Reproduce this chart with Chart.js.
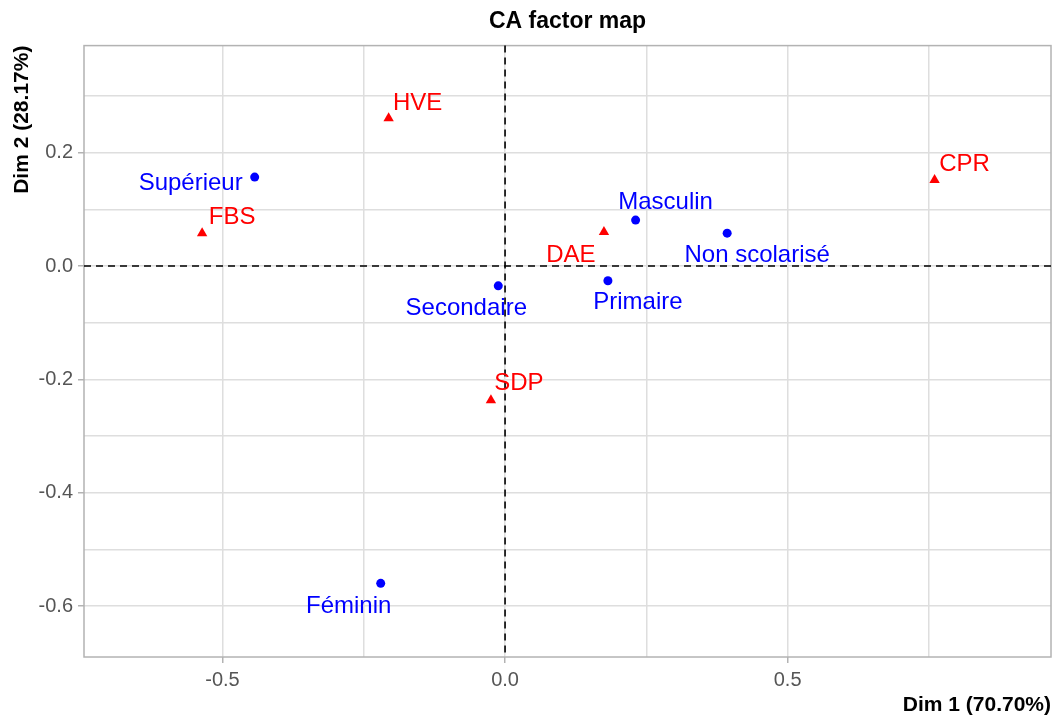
<!DOCTYPE html>
<html lang="fr">
  <head>
    <meta charset="UTF-8">
    <title>CA factor map</title>
    <script src="https://cdn.jsdelivr.net/npm/chart.js@4.4.1/dist/chart.umd.min.js"></script>
    <style>
      html, body { margin: 0; padding: 0; background: #fff; overflow: hidden; }
      canvas { display: block; }
    </style>
  </head>
  <body>
    <canvas id="chart" width="1057" height="718"></canvas>
    <script type="text/javascript">
      // column categories (blue circles)
      const colNames = ['Supérieur', 'Masculin', 'Non scolarisé', 'Primaire', 'Secondaire', 'Féminin']
      const colDim1 = [-0.443, 0.231, 0.393, 0.182, -0.012, -0.220]
      const colDim2 = [0.157, 0.081, 0.058, -0.026, -0.035, -0.560]

      // row categories (red triangles)
      const rowNames = ['HVE', 'CPR', 'FBS', 'DAE', 'SDP']
      const rowDim1 = [-0.206, 0.760, -0.536, 0.175, -0.025]
      const rowDim2 = [0.261, 0.152, 0.058, 0.060, -0.237]

      // axis breaks: all get a grid line, only the major ones get a label
      const xBreaks = [-0.5, -0.25, 0, 0.25, 0.5, 0.75]
      const xMajor = [-0.5, 0, 0.5]
      const yBreaks = [-0.6, -0.5, -0.4, -0.3, -0.2, -0.1, 0, 0.1, 0.2, 0.3]
      const yMajor = [-0.6, -0.4, -0.2, 0, 0.2]

      // label nudges in pixels (label centre relative to its point)
      const colNudge = [[-64, 6], [30, -18], [30, 22], [30, 22], [-32, 23], [-32, 23]]
      const rowNudge = [[29, -15], [30, -16], [30, -16], [-33, 23], [28, -17]]

      const isMajor = (list, v) => list.some(m => Math.abs(m - v) < 1e-9)
      const fmt = v => (Math.abs(v) < 1e-9 ? 0 : v).toFixed(1)

      const refLines = {
        id: 'refLines',
        beforeDatasetsDraw(chart) {
          const {ctx, chartArea: a, scales: {x, y}} = chart
          ctx.save()
          ctx.strokeStyle = '#b3b3b3'
          ctx.lineWidth = 1.5
          ctx.strokeRect(a.left, a.top, a.right - a.left, a.bottom - a.top)
          ctx.strokeStyle = '#000'
          ctx.lineWidth = 1.6
          ctx.setLineDash([7, 5])
          const x0 = x.getPixelForValue(0)
          const y0 = y.getPixelForValue(0)
          ctx.beginPath()
          ctx.moveTo(a.left, y0); ctx.lineTo(a.right, y0)
          ctx.moveTo(x0, a.top); ctx.lineTo(x0, a.bottom)
          ctx.stroke()
          ctx.restore()
        }
      }

      const pointLabels = {
        id: 'pointLabels',
        afterDatasetsDraw(chart) {
          const {ctx} = chart
          ctx.save()
          ctx.font = '24px "Liberation Sans", Arial, sans-serif'
          ctx.textAlign = 'center'
          ctx.textBaseline = 'middle'
          chart.data.datasets.forEach((ds, di) => {
            const meta = chart.getDatasetMeta(di)
            ctx.fillStyle = ds.labelColor
            meta.data.forEach((pt, i) => {
              const [dx, dy] = ds.nudge[i]
              ctx.fillText(ds.names[i], pt.x + dx, pt.y + dy)
            })
          })
          ctx.restore()
        }
      }

      const ctx = document.getElementById('chart').getContext('2d')
      const chart = new Chart(ctx, {
        type: 'scatter',
        data: {
          datasets: [
            {
              label: 'Colonnes',
              names: colNames,
              nudge: colNudge,
              labelColor: '#0000ff',
              data: colDim1.map((v, i) => ({x: v, y: colDim2[i]})),
              pointStyle: 'circle',
              pointRadius: 4.5,
              backgroundColor: '#0000ff',
              borderWidth: 0
            },
            {
              label: 'Lignes',
              names: rowNames,
              nudge: rowNudge,
              labelColor: '#ff0000',
              data: rowDim1.map((v, i) => ({x: v, y: rowDim2[i]})),
              pointStyle: 'triangle',
              pointRadius: 6,
              backgroundColor: '#ff0000',
              borderWidth: 0
            }
          ]
        },
        options: {
          responsive: false,
          animation: false,
          events: [],
          layout: { padding: { left: 0, right: 2, top: 0, bottom: 0 } },
          plugins: {
            legend: { display: false },
            tooltip: { enabled: false },
            title: {
              display: true,
              text: 'CA factor map',
              fullSize: false,
              color: '#000',
              font: { family: '"Liberation Sans", Arial, sans-serif', size: 23, weight: 'bold' },
              padding: { top: 8, bottom: 10 }
            }
          },
          scales: {
            x: {
              type: 'linear',
              min: -0.745,
              max: 0.966,
              afterBuildTicks: s => { s.ticks = xBreaks.map(v => ({value: v})) },
              afterFit: s => { s.height = 61 },
              border: { display: false },
              grid: {
                color: '#dedede',
                lineWidth: 1.5,
                tickLength: 6,
                tickColor: c => isMajor(xMajor, c.tick.value) ? '#b3b3b3' : 'rgba(0,0,0,0)',
                tickWidth: 1.5
              },
              ticks: {
                color: '#555',
                padding: 5,
                maxRotation: 0,
                autoSkip: false,
                font: { family: '"Liberation Sans", Arial, sans-serif', size: 20 },
                callback: v => isMajor(xMajor, v) ? fmt(v) : ''
              },
              title: {
                display: true,
                text: 'Dim 1 (70.70%)',
                align: 'end',
                color: '#000',
                font: { family: '"Liberation Sans", Arial, sans-serif', size: 21, weight: 'bold' },
                padding: { top: 0, bottom: 0 }
              }
            },
            y: {
              type: 'linear',
              min: -0.690,
              max: 0.389,
              afterBuildTicks: s => { s.ticks = yBreaks.map(v => ({value: v})) },
              afterFit: s => { s.width = 84 },
              border: { display: false },
              grid: {
                color: '#dedede',
                lineWidth: 1.5,
                tickLength: 6,
                tickColor: c => isMajor(yMajor, c.tick.value) ? '#b3b3b3' : 'rgba(0,0,0,0)',
                tickWidth: 1.5
              },
              ticks: {
                color: '#555',
                padding: 5,
                autoSkip: false,
                font: { family: '"Liberation Sans", Arial, sans-serif', size: 20 },
                callback: v => isMajor(yMajor, v) ? fmt(v) : ''
              },
              title: {
                display: true,
                text: 'Dim 2 (28.17%)',
                align: 'end',
                color: '#000',
                font: { family: '"Liberation Sans", Arial, sans-serif', size: 21, weight: 'bold' },
                padding: { top: 10, bottom: 0 }
              }
            }
          }
        },
        plugins: [refLines, pointLabels]
      })
    </script>
  </body>
</html>
